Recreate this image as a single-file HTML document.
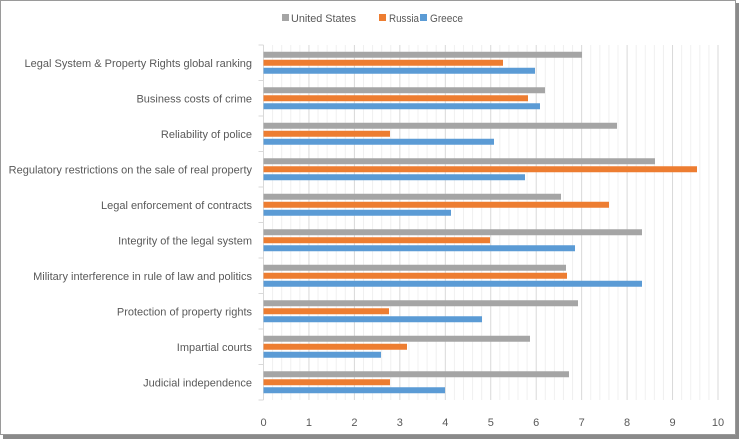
<!DOCTYPE html>
<html><head><meta charset="utf-8"><style>
body{margin:0;background:#fff;}
svg{display:block;font-family:"Liberation Sans",sans-serif;}
</style></head><body>
<svg width="742" height="441" viewBox="0 0 742 441">
<rect x="0" y="0" width="742" height="441" fill="#fff"/>
<rect x="3" y="3" width="736" height="436" fill="#8a8a8a"/>
<rect x="0.5" y="0.5" width="735" height="434" fill="#fff" stroke="#9a9a9a"/>
<g id="grid"></g>
<g id="bars"></g>
<g id="labels" font-size="11" fill="#595959" text-anchor="end"></g>
<g font-size="11" fill="#595959" text-anchor="middle" id="ticks"></g>
<g font-size="11" fill="#595959">
<rect x="282" y="14" width="7" height="7" fill="#a5a5a5"/><text x="291" y="22" textLength="65" lengthAdjust="spacingAndGlyphs">United States</text>
<rect x="379" y="14" width="7" height="7" fill="#ed7d31"/><text x="389" y="22" textLength="30" lengthAdjust="spacingAndGlyphs">Russia</text>
<rect x="420" y="14" width="7" height="7" fill="#5b9bd5"/><text x="430" y="22" textLength="33" lengthAdjust="spacingAndGlyphs">Greece</text>
</g>
</svg>
<script>
(function(){
const ns="http://www.w3.org/2000/svg";
function el(t,a,p,txt){const e=document.createElementNS(ns,t);for(const k in a)e.setAttribute(k,a[k]);if(txt)e.textContent=txt;document.getElementById(p).appendChild(e);}
const x0=263.5,s=45.45,y0=45,y1=400;
for(let i=0;i<=50;i++){const x=x0+i*s/5;el('line',{x1:x,x2:x,y1:y0,y2:y1,stroke:i%5?'#f0f0f0':'#d9d9d9','stroke-width':1},'grid');}
for(let i=0;i<=10;i++)el('text',{x:x0+i*s,y:426},'ticks',String(i));
el('line',{x1:x0,x2:x0,y1:y0,y2:y1,stroke:'#d9d9d9'},'grid');
const band=(y1-y0)/10;
for(let i=0;i<=10;i++)el('line',{x1:x0-5,x2:x0,y1:y0+i*band,y2:y0+i*band,stroke:'#d9d9d9'},'grid');
const cats=["Legal System & Property Rights global ranking","Business costs of crime","Reliability of police","Regulatory restrictions on the sale of real property","Legal enforcement of contracts","Integrity of the legal system","Military interference in rule of law and politics","Protection of property rights","Impartial courts","Judicial independence"];
const ends=[[582,503,535],[545,528,540],[617,390,494],[655,697,525],[561,609,451],[642,490,575],[566,567,642],[578,389,482],[530,407,381],[569,390,445]];
const cols=['#a5a5a5','#ed7d31','#5b9bd5'];
cats.forEach((c,i)=>{const cy=y0+i*band+band/2;
el('text',{x:252,y:cy+4},'labels',c);
ends[i].forEach((e,j)=>el('rect',{x:x0,y:cy-11+j*8,width:e-x0,height:6,fill:cols[j]},'bars'));});
})();
</script>
</body></html>
